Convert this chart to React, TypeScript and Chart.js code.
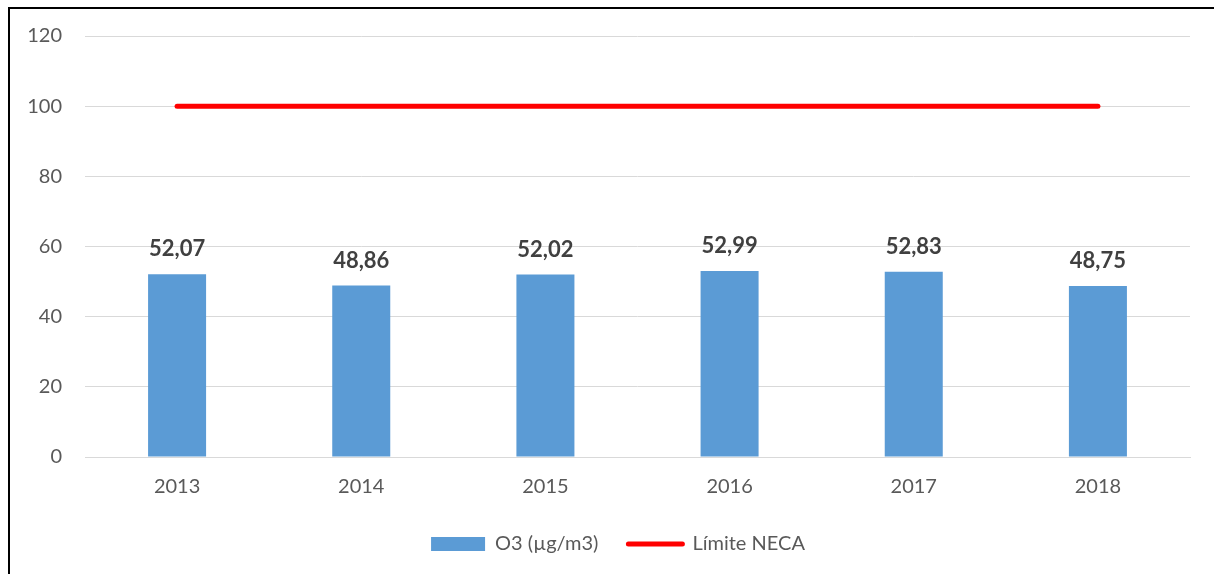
import React, { useEffect, useRef } from "react";
import { Chart, registerables } from "chart.js";

Chart.register(...registerables);

const categories = ["2013", "2014", "2015", "2016", "2017", "2018"];
const o3Values = [52.07, 48.86, 52.02, 52.99, 52.83, 48.75];
const limitValues = [100, 100, 100, 100, 100, 100];
const yTicks = [0, 20, 40, 60, 80, 100, 120];
const seriesNames = ["O3 (µg/m3)", "Límite NECA"];

const FONT = "Lato, 'Open Sans', sans-serif";

const labelPlugin = {
  id: "barLabels",
  afterLayout(chart: any) {
    if (chart.legend) {
      chart.legend.left = chart.legend.left + 46;
    }
  },
  afterDatasetsDraw(chart: any) {
    const meta = chart.getDatasetMeta(1);
    const ctx = chart.ctx;
    ctx.save();
    ctx.font = `bold 22px ${FONT}`;
    ctx.fillStyle = "#404040";
    ctx.textAlign = "center";
    ctx.textBaseline = "middle";
    meta.data.forEach((el: any, i: number) => {
      const txt = o3Values[i].toFixed(2).replace(".", ",");
      ctx.fillText(txt, el.x, el.y - 25);
    });
    ctx.restore();
  },
};

export default function App() {
  const ref = useRef<HTMLCanvasElement>(null);
  useEffect(() => {
    const chart = new Chart(ref.current!, {
      type: "bar",
      data: {
        labels: categories,
        datasets: [
          {
            type: "line",
            label: seriesNames[1],
            data: limitValues,
            borderColor: "#ff0000",
            borderWidth: 5,
            borderCapStyle: "round",
            pointRadius: 0,
            order: 0,
          } as any,
          {
            type: "bar",
            label: seriesNames[0],
            data: o3Values,
            backgroundColor: "#5b9bd5",
            categoryPercentage: 0.63,
            barPercentage: 0.5,
            order: 1,
          },
        ],
      },
      options: {
        animation: false,
        responsive: false,
        maintainAspectRatio: false,
        layout: { padding: { left: 0, right: 24, top: 36, bottom: 10 } },
        scales: {
          x: {
            grid: { display: false },
            border: { display: true, color: "#d9d9d9" },
            ticks: { color: "#595959", font: { family: FONT, size: 20 }, padding: 10 },
            afterFit(scale: any) {
              scale.height = 47;
            },
          },
          y: {
            min: 0,
            max: 120,
            afterBuildTicks(scale: any) {
              scale.ticks = yTicks.map((v) => ({ value: v }));
            },
            grid: { color: "#d9d9d9", lineWidth: 1, drawTicks: false },
            border: { display: false },
            ticks: { color: "#595959", font: { family: FONT, size: 20 }, padding: 23 },
            afterFit(scale: any) {
              scale.width = 85;
            },
          },
        },
        plugins: {
          tooltip: { enabled: false },
          legend: {
            position: "bottom",
            labels: {
              color: "#595959",
              font: { family: FONT, size: 20 },
              usePointStyle: true,
              pointStyleWidth: 54,
              boxHeight: 14,
              padding: 30,
              generateLabels() {
                return [
                  {
                    text: seriesNames[0],
                    fillStyle: "#5b9bd5",
                    strokeStyle: "#5b9bd5",
                    lineWidth: 0,
                    pointStyle: "rect",
                    fontColor: "#595959",
                    datasetIndex: 1,
                  },
                  {
                    text: seriesNames[1],
                    fillStyle: "#ff0000",
                    strokeStyle: "#ff0000",
                    lineWidth: 5,
                    lineCap: "round",
                    pointStyle: "line",
                    fontColor: "#595959",
                    datasetIndex: 0,
                  },
                ] as any;
              },
            },
          },
        },
      } as any,
      plugins: [labelPlugin],
    });
    return () => chart.destroy();
  }, []);
  return (
    <div style={{ position: "fixed", left: 0, top: 0, width: 1214, height: 574, background: "#fff", overflow: "hidden" }}>
      <canvas ref={ref} width={1214} height={574} style={{ position: "absolute", left: 0, top: 0 }} />
      <div
        style={{
          position: "absolute",
          left: 8,
          top: 7,
          width: 1230,
          height: 600,
          borderLeft: "2px solid #000",
          borderTop: "2px solid #000",
          pointerEvents: "none",
        }}
      />
    </div>
  );
}
